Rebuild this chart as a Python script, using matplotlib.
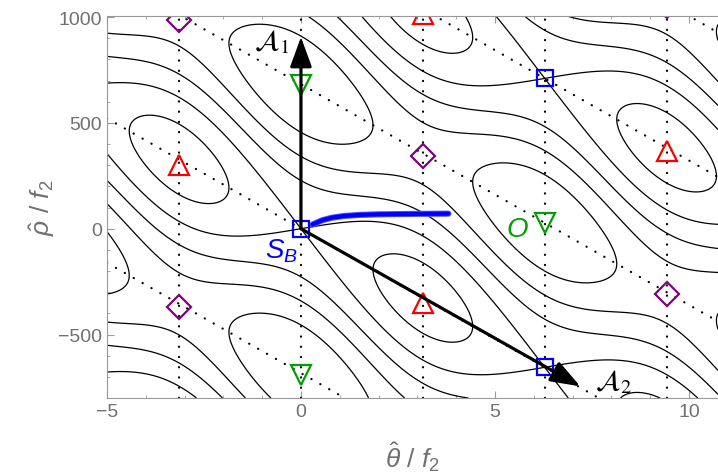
import numpy as np
import matplotlib
matplotlib.use("Agg")
import matplotlib.pyplot as plt

plt.rcParams['font.family'] = ['Liberation Sans', 'DejaVu Sans']
plt.rcParams['mathtext.fontset'] = 'custom'
plt.rcParams['mathtext.rm'] = 'Liberation Sans'
plt.rcParams['mathtext.it'] = 'Liberation Sans:italic'
plt.rcParams['mathtext.bf'] = 'Liberation Sans:bold'

# lattice of the potential
period_rho = 1365.0          # A1 = (0, 1365)
shift_rho = 655.0            # A2 = (2 pi, -655)
ratio = 0.39                 # weight of the theta cosine
levels = [-0.89, -0.39, 0.11, 0.61, 1.11]

# critical points
sq_x = [0, 2*np.pi, 2*np.pi]
sq_y = [0, 710, -655]
up_x = [-np.pi, np.pi, 3*np.pi, np.pi]
up_y = [300, -350, 365, 1012]
dn_x = [0, 0, 2*np.pi]
dn_y = [680, -690, 25]
dm_x = [-np.pi, np.pi, -np.pi, 3*np.pi, 3*np.pi]
dm_y = [985, 345, -370, -310, 1052]

# guide lines
vlines = [-np.pi, 0, np.pi, 2*np.pi, 3*np.pi]
diag_offsets = [-1365, -682.5, 0, 682.5, 1365, 2047.5]

# blue trajectory
traj_x = [0.3, 0.55, 0.8, 1.1, 1.5, 2.0, 3.0, 3.8]
traj_y = [20, 40, 52, 60, 65, 68, 70, 71]

arrow1 = (0, 905)
arrow2 = (7.2, -745)

xmin, xmax = -5, 10.75
ymin, ymax = -800, 1005

c = shift_rho / (2*np.pi)
th = np.linspace(xmin, xmax, 700)
rh = np.linspace(ymin, ymax, 700)
TH, RH = np.meshgrid(th, rh)
U = RH + c*TH
H = -ratio*np.cos(TH) + np.cos(2*np.pi*U/period_rho)

fig = plt.figure(figsize=(7.18, 4.77), dpi=100)
ax = fig.add_axes([0.149, 0.1635, 0.851, 0.8009])

ax.contour(TH, RH, H, levels=levels, colors='k', linewidths=0.9,
           negative_linestyles='solid')

for v in vlines:
    ax.axvline(v, color='k', lw=1.6, ls=(0, (0.1, 4.5)), dash_capstyle='round')
for off in diag_offsets:
    ax.plot(th, off - c*th, color='k', lw=1.6, ls=(0, (0.1, 4.5)),
            dash_capstyle='round')

ax.plot(traj_x, traj_y, color='#5050ff', lw=4.4, solid_capstyle='round')
ax.plot(traj_x, traj_y, color='blue', lw=3.0, solid_capstyle='round')

for tip in [arrow1, arrow2]:
    ax.annotate('', xy=tip, xytext=(0, 0),
                arrowprops=dict(arrowstyle='-|>,head_length=0.6,head_width=0.22',
                                color='k', lw=2.3, mutation_scale=30,
                                shrinkA=0, shrinkB=0))

ax.plot(sq_x, sq_y, ls='none', marker='s', ms=11, mfc='none', mec='blue', mew=1.6)
ax.plot(up_x, up_y, ls='none', marker='^', ms=15, mfc='none', mec='red', mew=1.6)
ax.plot(dn_x, dn_y, ls='none', marker='v', ms=15, mfc='none', mec='#00a000', mew=1.6)
ax.plot(dm_x, dm_y, ls='none', marker='D', ms=12, mfc='none', mec='purple', mew=1.6)

ax.text(-0.75, 887, r'$\mathcal{A}_1$', fontsize=21, ha='center', va='center',
        math_fontfamily='stix')
ax.text(8.05, -722, r'$\mathcal{A}_2$', fontsize=21, ha='center', va='center',
        math_fontfamily='stix')
ax.text(-0.5, -100, r'$S_B$', fontsize=20, color='blue', ha='center', va='center')
ax.text(5.58, 0, r'$O$', fontsize=20, color='#00a000', ha='center', va='center')

ax.set_xlim(xmin, xmax)
ax.set_ylim(ymin, ymax)
ax.set_xticks([-5, 0, 5, 10])
ax.set_xticks(np.arange(-5, 11, 1), minor=True)
ax.set_yticks([-500, 0, 500, 1000])
ax.set_yticks(np.arange(-800, 1001, 100), minor=True)
ax.set_yticklabels(['\u2212500', '0', '500', '1000'])
ax.set_xticklabels(['\u22125', '0', '5', '10'])

gray = '#707070'
for s in ['left', 'bottom', 'top']:
    ax.spines[s].set_color('#999999')
ax.spines['right'].set_visible(False)
ax.tick_params(which='both', direction='in', top=True, right=False,
               colors='#999999', labelcolor=gray, labelsize=14)
ax.tick_params(which='major', length=5)
ax.tick_params(which='minor', length=2.5)

ax.set_xlabel(r'$\hat{\theta}\ /\ f_2$', fontsize=19, color=gray, labelpad=14)
ax.set_ylabel(r'$\hat{\rho}\ /\ f_2$', fontsize=19, color=gray, labelpad=1)

fig.savefig('out.png', dpi=100)
